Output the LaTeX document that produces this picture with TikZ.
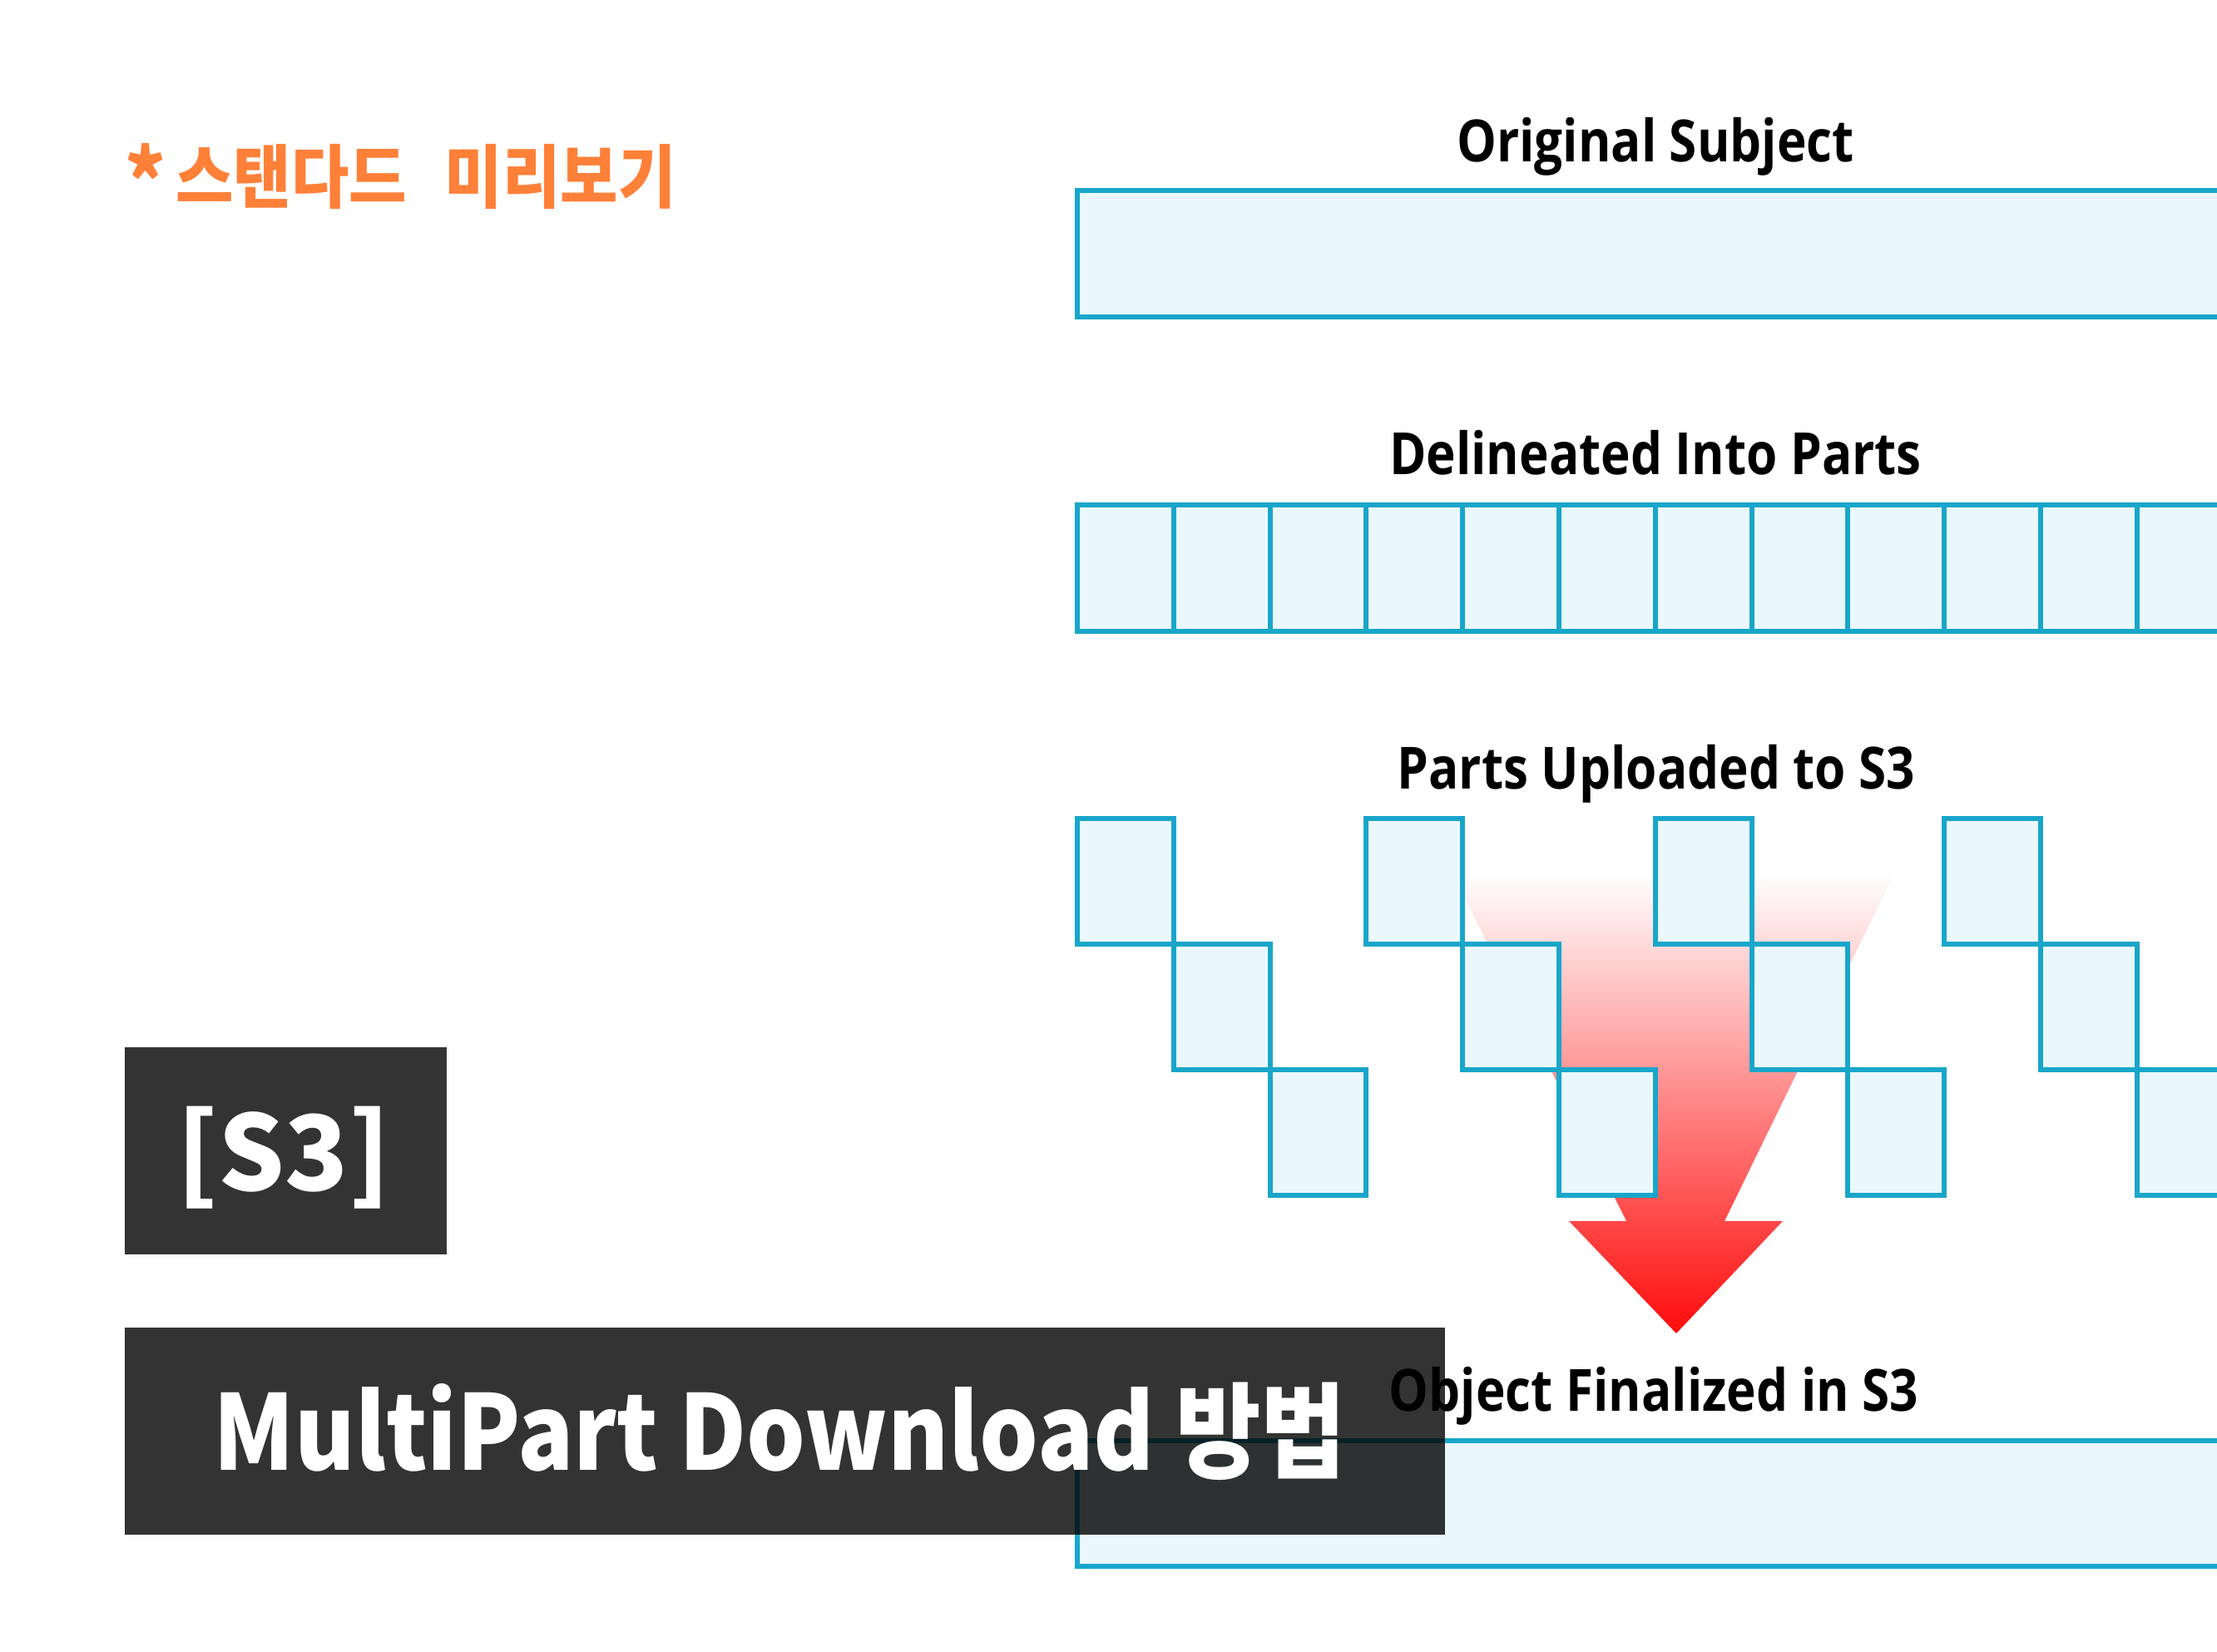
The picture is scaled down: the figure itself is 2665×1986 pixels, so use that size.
\documentclass[tikz,border=0pt]{standalone}
\usepackage{fontspec}
\newfontfamily\labfont{Open Sans}[FakeStretch=0.86]
\newfontfamily\krfont{Noto Sans CJK KR}
\newfontfamily\krtitle{Noto Sans CJK KR}[FakeStretch=0.89]
\newfontfamily\krcond{Noto Sans CJK KR}[FakeStretch=0.91]
\definecolor{boxline}{HTML}{19A6CA}
\definecolor{boxfill}{HTML}{EAF8FD}
\definecolor{orangetxt}{HTML}{FF8038}
\definecolor{arrowred}{RGB}{255,12,12}
\tikzset{
  cellbox/.style={draw=boxline, fill=boxfill, line width=1.7pt},
  steplabel/.style={anchor=base, inner sep=0pt, font=\labfont\bfseries\fontsize{19.9}{24}\selectfont},
  darkbox/.style={fill=black, fill opacity=0.8},
  whitetext/.style={text=white, inner sep=0pt, font=\krfont\bfseries\fontsize{35.6}{42}\selectfont}
}
\begin{document}
\begin{tikzpicture}[x=0.01cm, y=-0.01cm]
\useasboundingbox (0,0) rectangle (2665,1986);
\clip (0,0) rectangle (2665,1986);
% red arrow
\shade[top color=white, bottom color=arrowred]
  (1746,1050) -- (2277,1050) -- (2073,1468) -- (2143,1468) -- (2015,1603)
  -- (1886,1468) -- (1955,1468) -- cycle;
% row 1
\draw[cellbox] (1295,229) rectangle (2720,381);
% row 2
\foreach \c in {0,...,11} {
  \draw[cellbox] ({1295+115.8*\c},607) rectangle ({1295+115.8*(\c+1)},759);
}
% row 3 staircase
\foreach \g in {0,...,3} {
  \foreach \k in {0,1,2} {
    \draw[cellbox] ({1295+115.8*(3*\g+\k)},{984+151*\k}) rectangle ({1295+115.8*(3*\g+\k+1)},{984+151*(\k+1)});
  }
}
% row 4
\draw[cellbox] (1295,1732) rectangle (2720,1883);
% labels
\node[steplabel] (l1) at (1990,195) {Original Subject};
\node[steplabel] (l2) at (1990,571) {Delineated Into Parts};
\node[steplabel] (l3) at (1991,949) {Parts Uploaded to S3};
% orange heading
\node[anchor=base west, inner sep=0pt, text=orangetxt, font=\krcond\bfseries\fontsize{23.6}{28}\selectfont] (head) at (150,244) {\raisebox{-3.4pt}{\fontsize{29}{29}\selectfont *}\hspace{0.14em}스탠다드\hspace{0.55em}미리보기};
% dark boxes
\fill[darkbox] (150,1259) rectangle (537,1508);
\node[whitetext, anchor=base] (s3) at (341,1432) {[S3]};
\fill[darkbox] (150,1596) rectangle (1737,1845);
\node[whitetext, font=\krtitle\bfseries\fontsize{35.6}{42}\selectfont, anchor=base west] (title) at (256,1768) {MultiPart Download 방법};
\node[steplabel] (l4) at (1988,1697) {Object Finalized in S3};
\end{tikzpicture}
\end{document}
